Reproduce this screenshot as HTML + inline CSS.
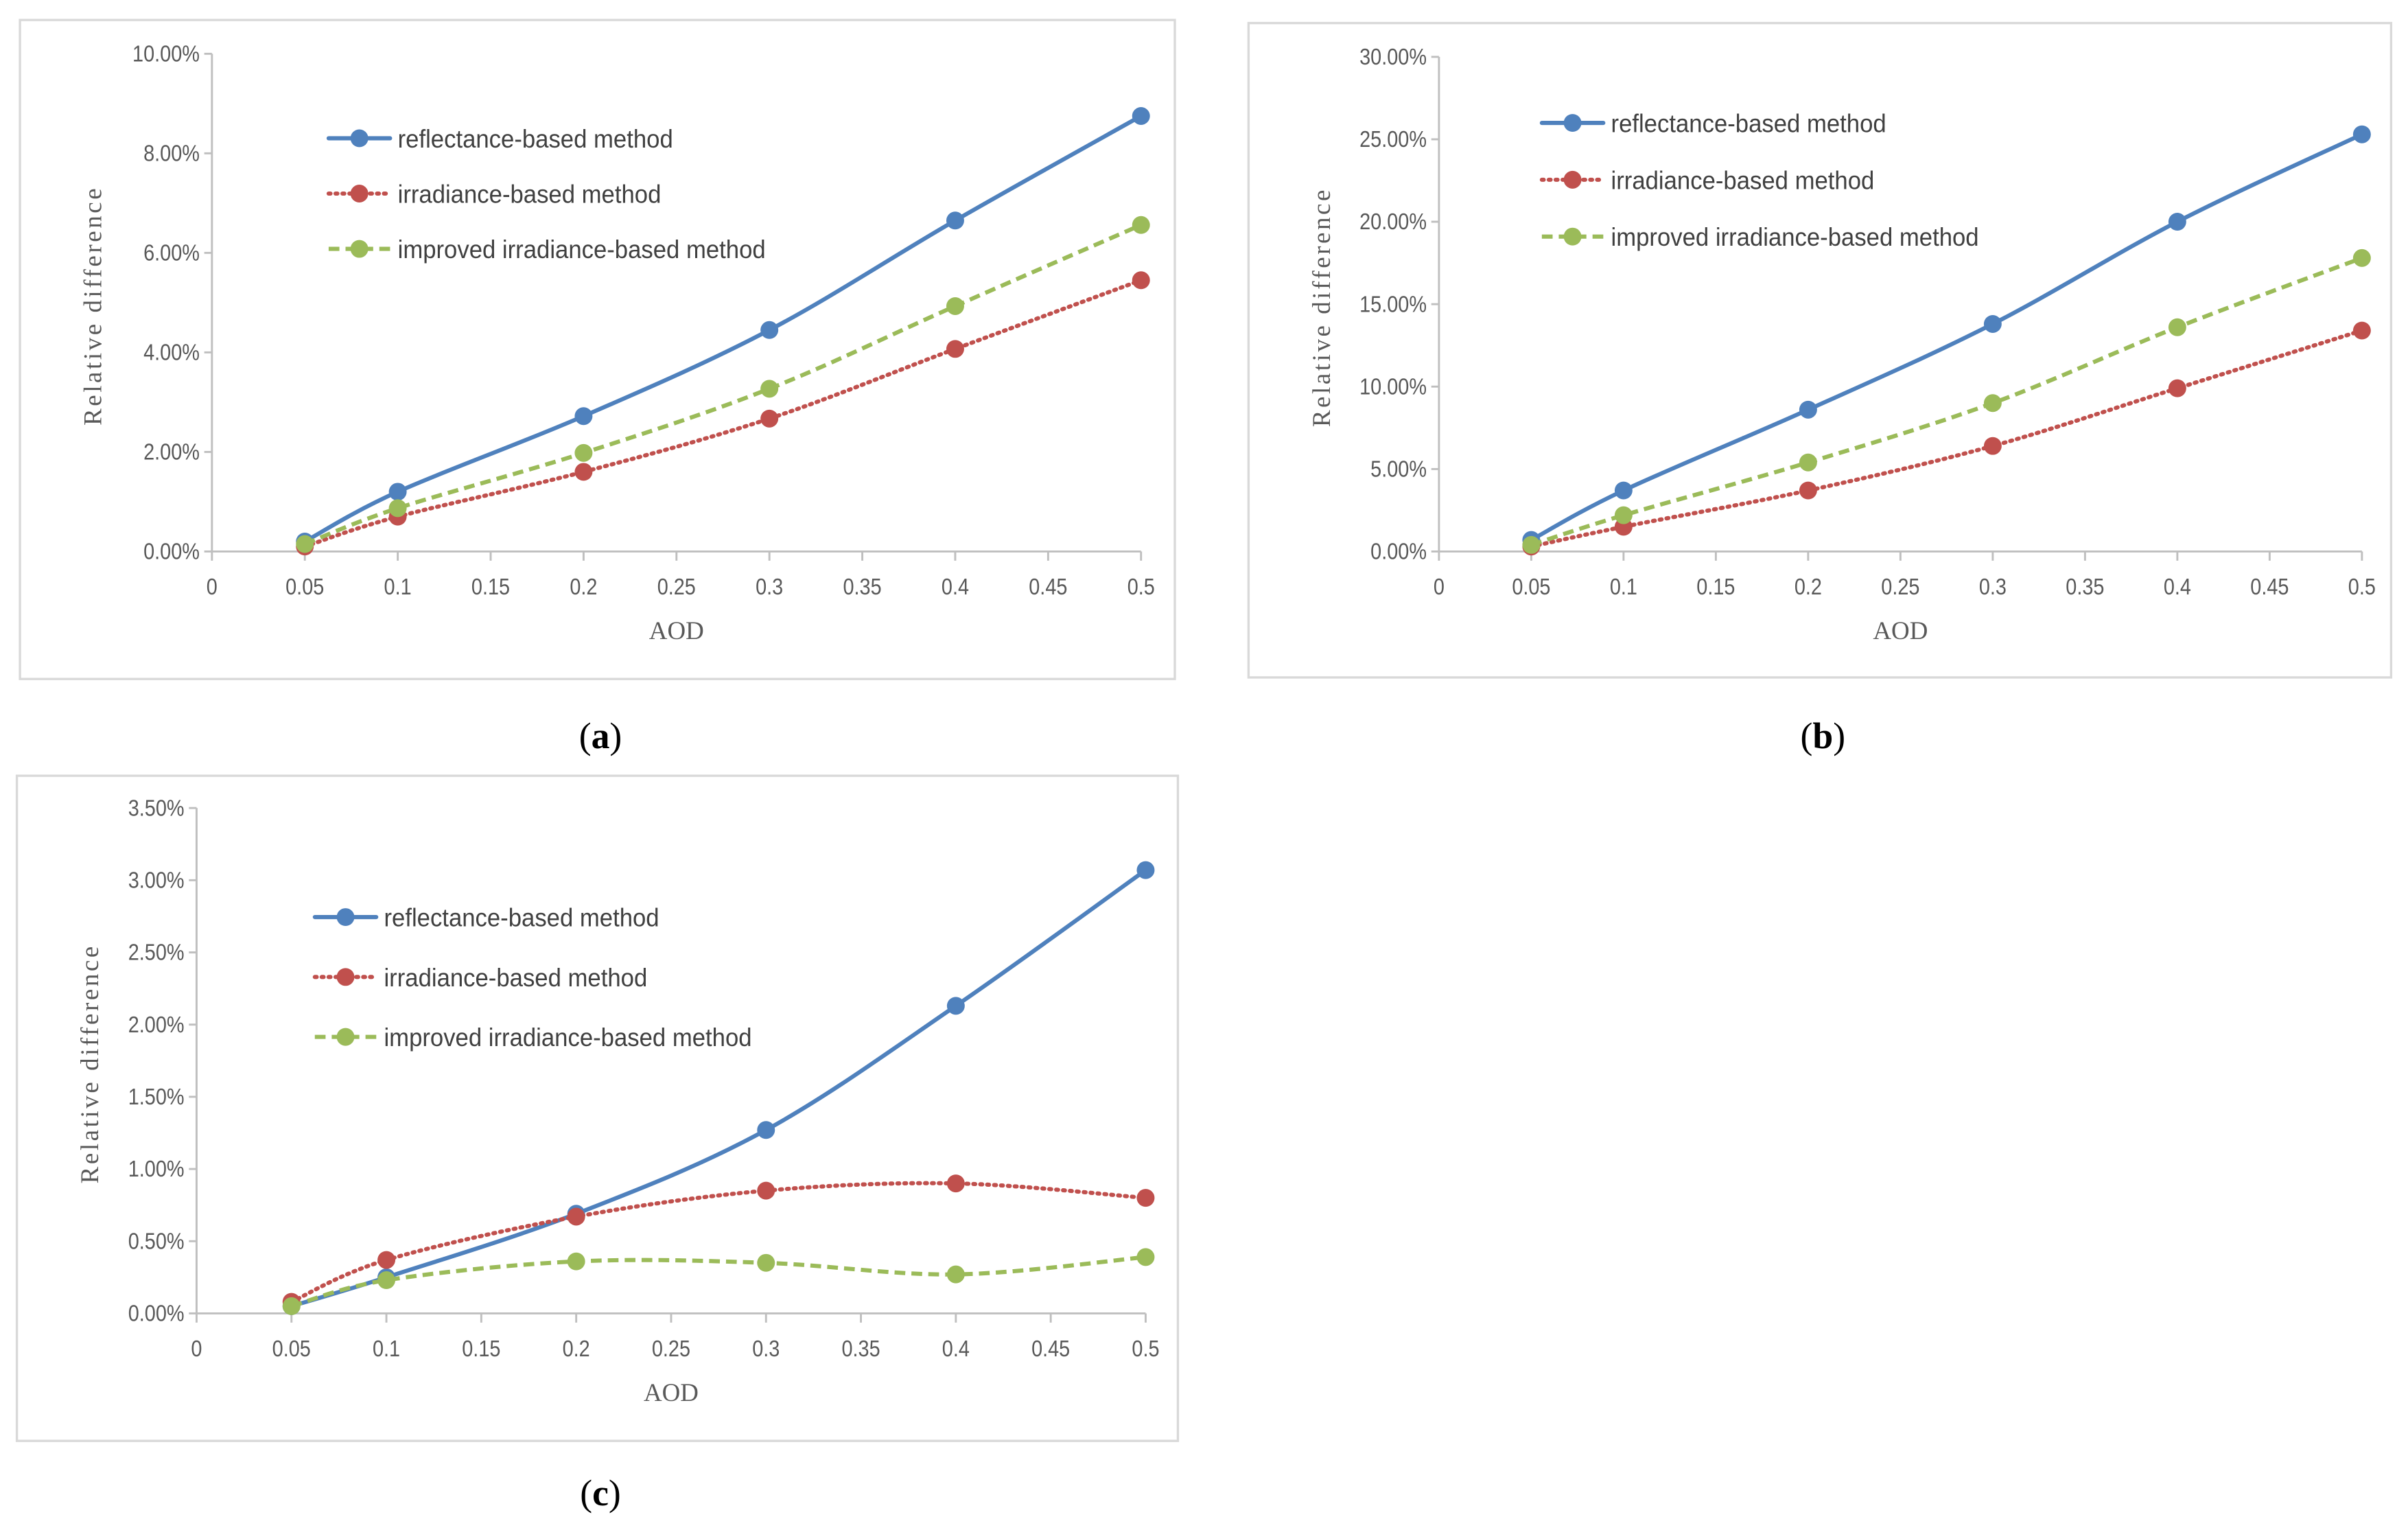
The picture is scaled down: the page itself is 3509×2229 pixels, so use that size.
<!DOCTYPE html>
<html><head><meta charset="utf-8">
<style>
html,body{margin:0;padding:0;background:#fff;}
svg{display:block;}
.tick{font-family:"Liberation Sans Narrow","Liberation Sans",sans-serif;font-size:15px;fill:#595959;}
.leg{font-family:"Liberation Sans Narrow","Liberation Sans",sans-serif;font-size:16.5px;fill:#404040;}
.ttl{font-family:"Liberation Serif",serif;font-size:16.5px;fill:#595959;}
.cap{font-family:"Liberation Serif",serif;font-size:24px;fill:#000;}
</style></head>
<body>
<svg id="fig" width="3509" height="2229" viewBox="0 0 1568 996" xmlns="http://www.w3.org/2000/svg"></svg>
<script>
const xValues = [0.05, 0.1, 0.2, 0.3, 0.4, 0.5];
const xTickLabels = ["0","0.05","0.1","0.15","0.2","0.25","0.3","0.35","0.4","0.45","0.5"];
const seriesNames = ["reflectance-based method","irradiance-based method","improved irradiance-based method"];
const aReflect = [0.2, 1.2, 2.72, 4.45, 6.65, 8.75];
const aIrr = [0.1, 0.7, 1.6, 2.67, 4.07, 5.45];
const aImp = [0.15, 0.87, 1.98, 3.27, 4.93, 6.56];
const aYTicks = ["0.00%","2.00%","4.00%","6.00%","8.00%","10.00%"];
const bReflect = [0.7, 3.7, 8.6, 13.8, 20.0, 25.3];
const bIrr = [0.3, 1.5, 3.7, 6.4, 9.9, 13.4];
const bImp = [0.4, 2.2, 5.4, 9.0, 13.6, 17.8];
const bYTicks = ["0.00%","5.00%","10.00%","15.00%","20.00%","25.00%","30.00%"];
const cReflect = [0.05, 0.25, 0.69, 1.27, 2.13, 3.07];
const cIrr = [0.08, 0.37, 0.67, 0.85, 0.90, 0.80];
const cImp = [0.05, 0.23, 0.36, 0.35, 0.27, 0.39];
const cYTicks = ["0.00%","0.50%","1.00%","1.50%","2.00%","2.50%","3.00%","3.50%"];

const NS = "http://www.w3.org/2000/svg";
const svg = document.getElementById("fig");
function mk(tag, attrs, parent){
  const e = document.createElementNS(NS, tag);
  for (const k in attrs) e.setAttribute(k, attrs[k]);
  (parent||svg).appendChild(e);
  return e;
}
function squeeze(t, f){
  const w = t.getComputedTextLength();
  t.setAttribute("textLength", (w*f).toFixed(2));
  t.setAttribute("lengthAdjust", "spacingAndGlyphs");
}
const colors = ["#4f81bd","#c0504d","#9bbb59"];
const dashes = ["none","1.2 3.3","7 4"];
const caps = ["round","round","butt"];

function smoothPath(pts){
  let d = "M" + pts[0][0] + "," + pts[0][1];
  for (let i=0;i<pts.length-1;i++){
    const p0 = pts[i-1]||pts[i], p1 = pts[i], p2 = pts[i+1], p3 = pts[i+2]||p2;
    const t = 0.5/3;
    const c1 = [p1[0]+(p2[0]-p0[0])*t, p1[1]+(p2[1]-p0[1])*t];
    const c2 = [p2[0]-(p3[0]-p1[0])*t, p2[1]-(p3[1]-p1[1])*t];
    d += " C"+c1[0]+","+c1[1]+" "+c2[0]+","+c2[1]+" "+p2[0]+","+p2[1];
  }
  return d;
}

function chart(cfg){
  const g = mk("g", {});
  
  
  const fr = mk("rect", {x:cfg.frame[0], y:cfg.frame[1], width:cfg.frame[2], height:cfg.frame[3], fill:"#fff", stroke:"#d9d9d9", "stroke-width":1.5}, g);
  
  
  const X = v => cfg.x0 + (cfg.x1 - cfg.x0) * v / 0.5;
  const Y = v => cfg.y0 - (cfg.y0 - cfg.y1) * v / cfg.ymax;
  const ya = mk("line", {x1:cfg.x0, y1:cfg.y0, x2:cfg.x0, y2:cfg.y1, stroke:"#bfbfbf", "stroke-width":1.3}, g);
  
  
  const n = cfg.yticks.length - 1;
  cfg.yticks.forEach((lab, i) => {
    const v = cfg.ymax * i / n;
    const tk = mk("line", {x1:cfg.x0-5, y1:Y(v), x2:cfg.x0, y2:Y(v), stroke:"#bfbfbf", "stroke-width":1.3}, g);
    
    
    const t = mk("text", {x:cfg.x0-8, y:Y(v)+5, "text-anchor":"end", class:"tick"}, g);
    t.textContent = lab;
    
    
    squeeze(t, 0.86);
  });
  const xa = mk("line", {x1:cfg.x0, y1:cfg.y0, x2:cfg.x1, y2:cfg.y0, stroke:"#bfbfbf", "stroke-width":1.3}, g);
  
  
  xTickLabels.forEach((lab, i) => {
    const v = parseFloat(lab);
    const tk = mk("line", {x1:X(v), y1:cfg.y0, x2:X(v), y2:cfg.y0+6, stroke:"#bfbfbf", "stroke-width":1.3}, g);
    
    
    const t = mk("text", {x:X(v), y:cfg.y0+28, "text-anchor":"middle", class:"tick"}, g);
    t.textContent = lab;
    
    
    squeeze(t, 0.86);
  });
  const xt = mk("text", {x:(cfg.x0+cfg.x1)/2, y:cfg.y0+57, "text-anchor":"middle", class:"ttl"}, g);
  xt.textContent = "AOD";
  
  
  const yt = mk("text", {x:0, y:0, "text-anchor":"middle", class:"ttl", "letter-spacing":"1.6",
    transform:"translate("+cfg.ylabx+","+((cfg.y0+cfg.y1)/2+2)+") rotate(-90)"}, g);
  yt.textContent = "Relative difference";
  
  
  cfg.series.forEach((vals, s) => {
    const pts = vals.map((v, i) => [X(xValues[i]), Y(v)]);
    const p = mk("path", {d:smoothPath(pts), fill:"none", stroke:colors[s], "stroke-width":2.7,
      "stroke-dasharray":dashes[s], "stroke-linecap":caps[s]}, g);
    
    
    pts.forEach(pt => {
      const c = mk("circle", {cx:pt[0], cy:pt[1], r:5.8, fill:colors[s]}, g);
      
      
    });
  });
  seriesNames.forEach((nm, s) => {
    const ly = cfg.legY[s];
    const l = mk("line", {x1:cfg.legX, y1:ly, x2:cfg.legX+40, y2:ly, stroke:colors[s], "stroke-width":2.7,
      "stroke-dasharray":dashes[s], "stroke-linecap":caps[s]}, g);
    
    
    const c = mk("circle", {cx:cfg.legX+20, cy:ly, r:5.8, fill:colors[s]}, g);
    
    
    const t = mk("text", {x:cfg.legX+45, y:ly+6, class:"leg"}, g);
    t.textContent = nm;
    
    
    squeeze(t, 0.94);
  });
  const cap = mk("text", {x:cfg.cap[0], y:cfg.cap[1], "text-anchor":"middle", class:"cap"}, g);
  cap.innerHTML = '(<tspan font-weight="bold">' + cfg.capLetter + '</tspan>)';
  
  
}

chart({name:"chart-a", frame:[13,13,752,429], x0:138, x1:743, y0:359, y1:35, ymax:10,
  yticks:aYTicks, series:[aReflect,aIrr,aImp], legX:214, legY:[90,126,162], ylabx:66, cap:[391,487], capLetter:"a"});
chart({name:"chart-b", frame:[813,15,744,426], x0:937, x1:1538, y0:359, y1:37, ymax:30,
  yticks:bYTicks, series:[bReflect,bIrr,bImp], legX:1004, legY:[80,117,154], ylabx:866, cap:[1187,487], capLetter:"b"});
chart({name:"chart-c", frame:[11,505,756,433], x0:128, x1:746, y0:855, y1:526, ymax:3.5,
  yticks:cYTicks, series:[cReflect,cIrr,cImp], legX:205, legY:[597,636,675], ylabx:64, cap:[391,980], capLetter:"c"});
</script>
</body></html>
